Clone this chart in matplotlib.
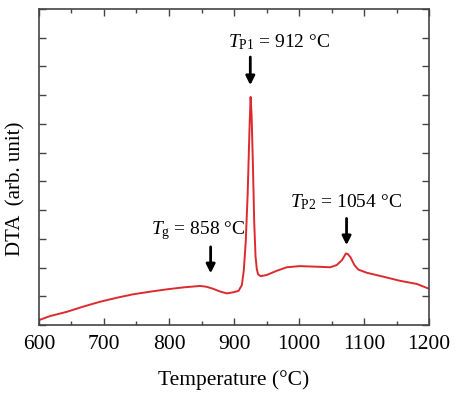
# DTA curve with glass transition and two crystallisation peaks

import numpy as np
import matplotlib.pyplot as plt
from matplotlib.ticker import MultipleLocator

plt.rcParams["font.family"] = "Liberation Serif"
plt.rcParams["mathtext.fontset"] = "custom"
plt.rcParams["mathtext.rm"] = "Liberation Serif"
plt.rcParams["mathtext.it"] = "Liberation Serif:italic"

# data

temperature = [600, 617, 643, 668, 694, 720, 745, 771, 796, 822, 848, 858,
               868, 878, 889, 899, 907, 912, 915, 918, 921, 924, 925.5, 927,
               929, 931, 933, 935, 937, 941, 950, 966, 981, 1001, 1027, 1048,
               1058, 1066, 1072, 1075, 1079, 1085, 1091, 1104, 1130, 1155,
               1181, 1200]
dta = [0.17, 0.31, 0.46, 0.64, 0.81, 0.95, 1.07, 1.16, 1.24, 1.31, 1.36, 1.33,
       1.26, 1.17, 1.10, 1.14, 1.19, 1.39, 1.9, 2.9, 4.6, 7.0, 7.94, 7.3,
       5.6, 3.6, 2.4, 1.95, 1.76, 1.70, 1.74, 1.89, 2.01, 2.05, 2.03, 2.01,
       2.09, 2.26, 2.49, 2.47, 2.36, 2.09, 1.93, 1.82, 1.68, 1.54,
       1.43, 1.26]

# annotations: label, text position, arrow x, arrow top, arrow bottom
labels = [r"$T_{\mathrm{g}}$ = 858 °C", r"$T_{\mathrm{P1}}$ = 912 °C",
          r"$T_{\mathrm{P2}}$ = 1054 °C"]
label_x = [845, 970, 1072]
label_y = [3.3, 9.84, 4.29]
arrow_x = [864, 925, 1073]
arrow_top = [2.72, 9.33, 3.71]
arrow_bottom = [1.80, 8.35, 2.78]

fig, ax = plt.subplots(figsize=(4.58, 3.93), dpi=100)
fig.subplots_adjust(left=0.085, right=0.937, top=0.977, bottom=0.173)

ax.plot(temperature, dta, color="#dc2a2e", lw=1.4)

for lab, tx, ty, x, y0, y1 in zip(labels, label_x, label_y, arrow_x,
                                  arrow_top, arrow_bottom):
    ax.text(tx, ty, lab, ha="center", va="center", fontsize=14)
    ax.annotate("", xy=(x, y1), xytext=(x, y0),
                arrowprops=dict(arrowstyle="-|>", color="black", lw=2,
                                mutation_scale=13, shrinkA=0, shrinkB=0))

ax.set_xlim(600, 1200)
ax.set_ylim(0, 11)
ax.xaxis.set_major_locator(MultipleLocator(100))
ax.xaxis.set_minor_locator(MultipleLocator(50))
ax.yaxis.set_major_locator(MultipleLocator(1))
ax.set_yticklabels([])

ax.tick_params(axis="both", which="both", direction="in", top=True,
               right=True, color="#444444", width=1)
ax.tick_params(axis="both", which="major", length=5, labelsize=15.5)
ax.tick_params(axis="x", which="major", pad=7)
ax.tick_params(axis="x", which="minor", length=3)

for s in ax.spines.values():
    s.set_color("#444444")
    s.set_linewidth(1.2)

ax.set_xlabel("Temperature (°C)", fontsize=15.5, labelpad=12)
ax.set_ylabel("DTA  (arb. unit)", fontsize=15)
ax.yaxis.set_label_coords(-0.035, 0.43)

plt.savefig("out.png", dpi=100)
